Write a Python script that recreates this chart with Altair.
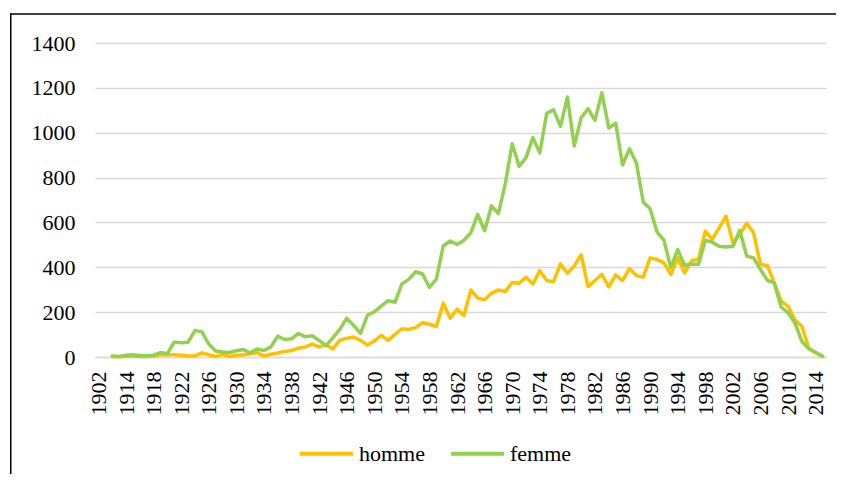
import altair as alt
import pandas as pd

years = [1902] + list(range(1911, 2016))

homme = [None, None,
         2, 1, 3, 3, 2, 2, 4, 10, 10, 10,          # 1912-1921
         8, 5, 5, 18, 10, 2, 12, 2, 8, 10,         # 1922-1931
         14, 20, 4, 12, 18, 25, 29, 39, 45, 57,    # 1932-1941
         45, 55, 36, 75, 83, 89, 74, 53, 71, 96,   # 1942-1951
         74, 101, 126, 123, 131, 153, 146, 136, 240, 173,  # 1952-1961
         213, 185, 299, 262, 255, 284, 299, 292, 332, 329, # 1962-1971
         356, 326, 385, 341, 336, 415, 373, 406, 455, 314, # 1972-1981
         341, 369, 313, 366, 341, 395, 363, 356, 442, 435, # 1982-1991
         420, 368, 442, 375, 430, 435, 561, 524, 576, 628, # 1992-2001
         509, 546, 596, 554, 412, 408, 330, 249, 226, 166, # 2002-2011
         137, 40, 18, 3]                                   # 2012-2015

femme = [None, None,
         5, 2, 8, 10, 7, 6, 8, 20, 15, 67,                 # 1912-1921
         63, 66, 118, 112, 58, 27, 22, 20, 28, 33,         # 1922-1931
         19, 36, 29, 45, 93, 78, 81, 105, 90, 95,          # 1932-1941
         74, 51, 86, 123, 173, 141, 105, 186, 201, 227,    # 1942-1951
         251, 244, 326, 346, 380, 370, 310, 347, 495, 517, # 1952-1961
         502, 521, 554, 636, 563, 674, 640, 773, 951, 850, # 1962-1971
         889, 978, 910, 1087, 1102, 1028, 1159, 941, 1067, 1107,  # 1972-1981
         1055, 1178, 1021, 1043, 856, 928, 866, 691, 661, 557,    # 1982-1991
         521, 398, 479, 408, 415, 412, 520, 512, 494, 490,        # 1992-2001
         494, 564, 450, 442, 390, 342, 330, 223, 197, 152,        # 2002-2011
         70, 36, 21, 3]                                           # 2012-2015

series_names = ["homme", "femme"]
series_colors = ["#FFC000", "#92D050"]
y_ticks = [0, 200, 400, 600, 800, 1000, 1200, 1400]
x_labels = [1902] + list(range(1914, 2015, 4))

rows = []
for name, vals in zip(series_names, [homme, femme]):
    for yr, v in zip(years, vals):
        rows.append({"annee": yr, "serie": name, "valeur": v})
df = pd.DataFrame(rows)

FONT = "Liberation Serif, Times New Roman, Tinos, serif"
W, H = 731, 314
PAD = {"left": 87, "top": 35, "right": 10, "bottom": 117}

x_enc = alt.X(
    "annee:O",
    scale=alt.Scale(type="point", padding=0.5, domain=years),
    axis=alt.Axis(
        values=x_labels, labelAngle=-90, title=None, ticks=False,
        domainColor="#D9D9D9", domainWidth=1.5, grid=False,
        labelPadding=14, labelFont=FONT, labelFontSize=22,
        labelColor="#000000", labelOverlap=False,
    ),
)
y_enc = alt.Y(
    "valeur:Q",
    scale=alt.Scale(domain=[0, 1400], nice=False),
    axis=alt.Axis(
        values=y_ticks, format="d", title=None, grid=True, gridColor="#D9D9D9",
        gridWidth=1.4, domain=False, ticks=False, labelPadding=20,
        labelFont=FONT, labelFontSize=22, labelColor="#000000",
    ),
)
color_enc = alt.Color(
    "serie:N",
    sort=series_names,
    scale=alt.Scale(domain=series_names, range=series_colors),
    legend=alt.Legend(
        title=None, orient="none", legendX=203, legendY=382,
        direction="horizontal", symbolType="stroke", symbolSize=2809,
        symbolStrokeWidth=4, labelFont=FONT, labelFontSize=22,
        labelColor="#000000", labelOffset=4, columnPadding=18, padding=0,
    ),
)

base = alt.Chart(df)
line_h = base.transform_filter(alt.datum.serie == "homme").mark_line(
    strokeWidth=3.5, strokeJoin="round", strokeCap="round"
).encode(x=x_enc, y=y_enc, color=color_enc)
line_f = base.transform_filter(alt.datum.serie == "femme").mark_line(
    strokeWidth=3.5, strokeJoin="round", strokeCap="round"
).encode(x=x_enc, y=y_enc, color=color_enc)

# chart-area border: thin filled bars for the left and top edges
border_left = alt.Chart(alt.Data(values=[{"edge": "left"}])).mark_rect(
    color="#000000", strokeWidth=0
).encode(
    x=alt.value(-85), x2=alt.value(-83.5),
    y=alt.value(-29.75), y2=alt.value(H + PAD["bottom"]),
)
border_top = alt.Chart(alt.Data(values=[{"edge": "top"}])).mark_rect(
    color="#000000", strokeWidth=0
).encode(
    x=alt.value(-85), x2=alt.value(W + PAD["right"]),
    y=alt.value(-29.75), y2=alt.value(-28.25),
)

chart = alt.layer(border_left, border_top, line_h, line_f).properties(
    width=W, height=H,
    autosize=alt.AutoSizeParams(type="none"),
    padding=PAD,
    background="#FFFFFF",
).configure_view(stroke=None)

chart.save("out.html", embed_options={"renderer": "svg", "actions": False})
